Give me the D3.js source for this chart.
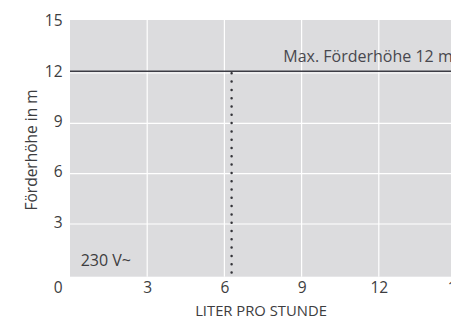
<!DOCTYPE html>
<html><head><meta charset="utf-8">
<script src="https://cdn.jsdelivr.net/npm/d3@7"></script>
<style>body{margin:0;background:#fff;}svg{display:block;font-family:"Open Sans",sans-serif;}</style>
</head><body>
<script>
const xTicks = [3, 6, 9, 12, 15];
const yTicks = [3, 6, 9, 12, 15];
const maxHead = 12;
const flowAtMax = 6.28;
const maxLabel = "Max. Förderhöhe 12 m";
const voltageLabel = "230 V~";
const xTitle = "LITER PRO STUNDE";
const yTitle = "Förderhöhe in m";
const originLabel = "0";

const W = 451, H = 317;
const x = d3.scaleLinear().domain([0, 15]).range([70, 456]);
const y = d3.scaleLinear().domain([0, 15]).range([274.3, 22.7]);
const txt = "#3d3d40";
const svg = d3.select("body").append("svg").attr("width", W).attr("height", H);

svg.append("rect").attr("x", x(0)).attr("y", y(15) - 2.7).attr("width", x(15) - x(0)).attr("height", y(0) - y(15) + 5.1).attr("fill", "#dcdcde");

// grid
svg.append("g").selectAll("line").data(xTicks.slice(0, -1)).join("line")
  .attr("x1", d => x(d)).attr("x2", d => x(d)).attr("y1", y(15) - 2.7).attr("y2", y(0) + 2.4)
  .attr("stroke", "#fff").attr("stroke-width", 1.2);
svg.append("g").selectAll("line").data(yTicks.slice(0, -1)).join("line")
  .attr("x1", x(0)).attr("x2", x(15)).attr("y1", d => y(d)).attr("y2", d => y(d))
  .attr("stroke", "#fff").attr("stroke-width", 1.2);

// axes labels
const xAxis = d3.axisBottom(x).tickValues(xTicks).tickSize(0).tickPadding(0);
const gx = svg.append("g").attr("transform", `translate(0,${y(0)})`).call(xAxis);
gx.select(".domain").remove();
gx.selectAll("text").attr("font-size", 15.5).attr("fill", txt).attr("font-family", "Open Sans").attr("dy", null).attr("y", 293 - y(0));

const yAxis = d3.axisLeft(y).tickValues(yTicks).tickSize(0).tickPadding(7.5);
const gy = svg.append("g").attr("transform", `translate(${x(0)},0)`).call(yAxis);
gy.select(".domain").remove();
gy.selectAll("text").attr("font-size", 15.5).attr("fill", txt).attr("font-family", "Open Sans").attr("dy", "0.2em");

svg.append("text").attr("x", x(0) - 7.5).attr("y", 293).attr("text-anchor", "end")
  .attr("font-size", 15.5).attr("fill", txt).text(originLabel);

// max line
svg.append("line").attr("x1", x(0)).attr("x2", x(15)).attr("y1", y(maxHead) - 1.8).attr("y2", y(maxHead) - 1.8)
  .attr("stroke", "#3c3c44").attr("stroke-width", 1.6);
svg.append("text").attr("x", 283.3).attr("y", y(maxHead) - 11.3).attr("font-size", 16).attr("fill", "#48484e").text(maxLabel);

// dotted line
svg.append("line").attr("x1", x(flowAtMax)).attr("x2", x(flowAtMax)).attr("y1", y(maxHead) + 0.3).attr("y2", y(0) + 2)
  .attr("stroke", "#333338").attr("stroke-width", 2.5).attr("stroke-dasharray", "0 8.3").attr("stroke-linecap", "round");

svg.append("text").attr("x", 80.7).attr("y", 266).attr("font-size", 16).attr("fill", txt).text(voltageLabel);

svg.append("text").attr("x", 261).attr("y", 315.5).attr("text-anchor", "middle").attr("font-size", 14.8).attr("fill", txt).text(xTitle);
svg.append("text").attr("transform", `translate(37,150) rotate(-90)`).attr("text-anchor", "middle").attr("font-size", 15.5).attr("fill", txt).text(yTitle);
</script>
</body></html>
